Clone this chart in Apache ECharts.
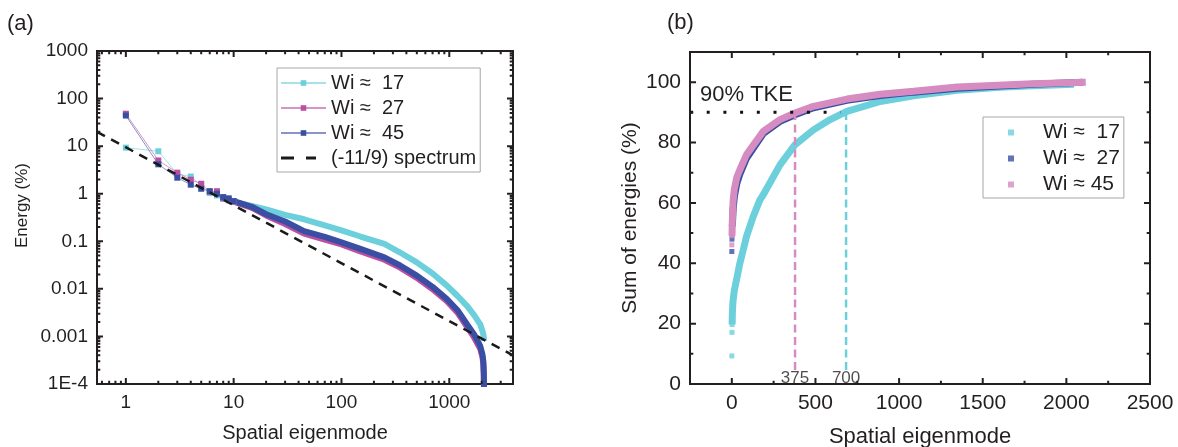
<!DOCTYPE html>
<html>
<head>
<meta charset="utf-8">
<script src="https://cdn.jsdelivr.net/npm/echarts@6/dist/echarts.min.js"></script>
<style>
html, body { margin: 0; padding: 0; background: #fff; }
#chart { width: 1178px; height: 447px; }
</style>
</head>
<body>
<div id="chart"></div>
<script>
// (a) energy of each spatial eigenmode, log-log
var earlyModes = [1, 2, 3, 4, 5, 6, 7, 8, 9, 10];
var earlyWi17 = [9.3, 7.8, 2.6, 2.3, 1.5, 1.03, 0.92, 0.78, 0.72, 0.68];
var earlyWi27 = [48, 5.0, 2.77, 1.97, 1.62, 1.1, 1.13, 0.8, 0.75, 0.68];
var earlyWi45 = [44, 4.15, 2.17, 1.55, 1.27, 1.13, 1.0, 0.85, 0.8, 0.7];

var tailModes = [10, 15, 20, 30, 45, 70, 100, 150, 250, 350, 500, 700, 950, 1200, 1460, 1700, 1935, 2030, 2070, 2090, 2100];
var tailWi17 = [0.68, 0.55, 0.47, 0.36, 0.29, 0.215, 0.17, 0.126, 0.088, 0.058, 0.036, 0.021, 0.0117, 0.007, 0.0044, 0.0028, 0.0018, 0.0013, 0.0011, 0.00095, 0.0008];
var tailWi27 = [0.68, 0.5, 0.35, 0.23, 0.145, 0.108, 0.086, 0.061, 0.041, 0.028, 0.017, 0.0098, 0.0055, 0.0031, 0.0016, 0.00095, 0.00055, 0.00037, 0.00026, 0.00015, 0.00006];
var tailWi45 = [0.7, 0.52, 0.37, 0.26, 0.163, 0.124, 0.095, 0.069, 0.046, 0.031, 0.019, 0.011, 0.0061, 0.0035, 0.0018, 0.0011, 0.00063, 0.00042, 0.0003, 0.00018, 0.00008];

var spectrumModes = [0.54, 3900];
var spectrumE = [20, 0.0004];

// (b) cumulative sum of energies
var sumModes17 = [0, 1, 2, 3, 5, 8, 15, 28, 48, 68, 88, 128, 168, 188, 288, 378, 488, 588, 688, 887, 1087, 1347, 1600, 1800, 2045];
var sumWi17 = [9.3, 17.1, 19.7, 22.9, 25.5, 27.9, 31, 34.5, 40, 44.4, 48.9, 55.5, 61, 62.7, 72.6, 79.3, 84.2, 87.6, 90.3, 93.6, 95.5, 97.3, 98.3, 98.8, 99.3];
var sumModes27 = [0, 1, 2, 3, 5, 8, 15, 30, 48, 88, 188, 288, 378, 488, 688, 887, 1087, 1347, 1800, 2100];
var sumWi27 = [43.9, 48.0, 49.7, 52.2, 54.5, 58, 62, 66.5, 69.5, 74.8, 83, 87, 89.2, 91.5, 94, 95.6, 96.7, 98, 99.3, 100];
var sumModes45 = [0, 1, 2, 3, 5, 8, 15, 30, 48, 88, 188, 288, 378, 488, 688, 887, 1087, 1347, 1800, 2116];
var sumWi45 = [46.1, 49.1, 51, 54, 57, 61, 64.5, 68.5, 71, 76, 83.7, 87.6, 89.8, 92, 94.4, 96, 97, 98.4, 99.5, 100];

var tkeLevel = 90;
var tkeDotRange = [-250, 650];
var tkeModes = [378, 683];
var tkeTops = [88.7, 90.3];
var tkeLabels = ['375', '700'];

// tick positions
var logXMajor = [1, 10, 100, 1000];
var logYMajor = [0.0001, 0.001, 0.01, 0.1, 1, 10, 100, 1000];
var linXMajor = [0, 500, 1000, 1500, 2000, 2500];
var linXMinor = [250, 750, 1250, 1750, 2250];
var linYMajor = [0, 20, 40, 60, 80, 100];
var linYMinor = [10, 30, 50, 70, 90];

function decadeTicks(from, to) {
    var out = [];
    for (var k = from; k <= to; k++) {
        for (var m = 2; m <= 9; m++) out.push(+(m * Math.pow(10, k)).toPrecision(3));
    }
    return out;
}
var logXMinor = [0.6, 0.7, 0.8, 0.9].concat(decadeTicks(0, 2), [2000, 3000]);
var logYMinor = decadeTicks(-4, 2);

var INK = '#231f20';
var FONT = '"Liberation Sans", Arial, sans-serif';
var cyan = '#6ccfdc', magenta = '#bd4fa2', blue = '#3a4fa3', pink = '#d68cc1';

function pairs(xs, ys) {
    return xs.map(function (x, i) { return [x, ys[i]]; });
}

function fmtLog(v) {
    return v < 0.00099 ? '1E-4' : String(+Number(v).toPrecision(4));
}
function fmtLin(v) {
    return String(v);
}

function axis(gridIndex, type, min, max, labels, fontSize, fmt, name, nameGap, nameStyle) {
    var ax = {
        gridIndex: gridIndex, type: type, min: min, max: max,
        axisLine: {show: true, onZero: false, lineStyle: {color: INK, width: 2}},
        axisTick: {show: false},
        axisLabel: {
            show: true, customValues: labels, color: INK, fontSize: fontSize,
            fontFamily: FONT, margin: 9, formatter: fmt
        },
        splitLine: {show: false},
        name: name, nameLocation: 'middle', nameGap: nameGap,
        nameTextStyle: nameStyle
    };
    if (type === 'log') ax.logBase = 10;
    return ax;
}

// inward tick marks on both sides of a frame, as short broken segments in data space.
// perStep = data units (decades on a log axis) per pixel of the crossing axis
function tickMarks(gi, dim, majors, minors, lo, hi, isLog, perStep, len) {
    var out = [];
    function add(v, px) {
        var d = px * perStep;
        [[lo, 1], [hi, -1]].forEach(function (e) {
            var a = e[0];
            var b = isLog ? a * Math.pow(10, e[1] * d) : a + e[1] * d;
            if (dim === 'x') out.push([v, a], [v, b], [v, '-']);
            else out.push([a, v], [b, v], ['-', v]);
        });
    }
    majors.forEach(function (v) { add(v, len); });
    minors.forEach(function (v) { add(v, len * 0.55); });
    return {
        type: 'line', xAxisIndex: gi, yAxisIndex: gi, data: out, symbol: 'none',
        silent: true, clip: false, z: 5, connectNulls: false,
        lineStyle: {color: INK, width: 2}
    };
}

var myChart = echarts.init(document.getElementById('chart'));

function earlyLine(name, ys, color) {
    return {
        name: name, type: 'line', xAxisIndex: 0, yAxisIndex: 0,
        data: pairs(earlyModes, ys), symbol: 'rect', symbolSize: 6,
        itemStyle: {color: color}, lineStyle: {color: color, width: 1, opacity: 0.6}
    };
}
function bandLine(name, data, color, width, gi) {
    return {
        name: name, type: 'line', xAxisIndex: gi, yAxisIndex: gi,
        data: data, symbol: 'none', itemStyle: {color: color},
        lineStyle: {color: color, width: width}
    };
}
function loneDots(name, data, color) {
    return {
        name: name, type: 'scatter', xAxisIndex: 1, yAxisIndex: 1,
        data: data, symbol: 'rect', symbolSize: 5, itemStyle: {color: color}
    };
}
function dashLine(data, color, dash, width) {
    return {
        type: 'line', xAxisIndex: 1, yAxisIndex: 1, data: data, symbol: 'none', z: 4,
        lineStyle: {color: color, width: width, type: dash}
    };
}

var sum17 = pairs(sumModes17, sumWi17);
var sum27 = pairs(sumModes27, sumWi27);
var sum45 = pairs(sumModes45, sumWi45);
var sumNames = {cum17: 'Wi \u2248  17', cum27: 'Wi \u2248  27', cum45: 'Wi \u2248 45'};

var option = {
    animation: false,
    grid: [
        {left: 97, top: 51, width: 416, height: 333, show: true, borderColor: INK, borderWidth: 2, outerBoundsMode: 'none'},
        {left: 690, top: 52, width: 460, height: 332, show: true, borderColor: INK, borderWidth: 2, outerBoundsMode: 'none'}
    ],
    xAxis: [
        axis(0, 'log', 0.54, 3900, logXMajor, 19, fmtLog, 'Spatial eigenmode', 39,
            {color: INK, fontSize: 20, fontFamily: FONT}),
        axis(1, 'value', -250, 2500, linXMajor, 21, fmtLin, 'Spatial eigenmode', 42,
            {color: INK, fontSize: 22, fontFamily: FONT})
    ],
    yAxis: [
        axis(0, 'log', 0.0001, 1000, logYMajor, 19, fmtLog, 'Energy (%)', 66,
            {color: INK, fontSize: 17, fontFamily: FONT, padding: [0, 0, 0, 24]}),
        axis(1, 'value', 0, 110, linYMajor, 21, fmtLin, 'Sum of energies (%)', 49,
            {color: INK, fontSize: 21, fontFamily: FONT})
    ],
    legend: [
        {
            orient: 'vertical', left: 277, top: 68, selectedMode: false,
            data: ['Wi \u2248  17', 'Wi \u2248  27', 'Wi \u2248  45',
                {name: '(-11/9) spectrum', icon: 'path://M0,0H13V3H0Z M25,0H35V3H25Z M44.8,1.4H45V1.6H44.8Z'}],
            itemWidth: 45, itemHeight: 7, itemGap: 5,
            textStyle: {color: INK, fontSize: 20, lineHeight: 20, fontFamily: FONT},
            borderColor: '#a6a6a6', borderWidth: 1, borderRadius: 0, padding: [5, 4, 4, 3]
        },
        {
            orient: 'vertical', left: 983, top: 117, selectedMode: false,
            data: ['cum17', 'cum27', 'cum45'], icon: 'rect',
            formatter: function (n) { return sumNames[n]; },
            itemWidth: 6, itemHeight: 6, itemGap: 5,
            textStyle: {color: INK, fontSize: 21, lineHeight: 20, fontFamily: FONT, padding: [0, 0, 0, 24]},
            borderColor: '#a6a6a6', borderWidth: 1, borderRadius: 0, padding: [5, 4, 3, 25]
        }
    ],
    graphic: [
        {type: 'text', left: 7, top: 13, style: {text: '(a)', fill: INK, fontSize: 22, fontFamily: FONT}},
        {type: 'text', left: 667, top: 12, style: {text: '(b)', fill: INK, fontSize: 22, fontFamily: FONT}},
        {type: 'text', left: 700, top: 84, z: 10, style: {text: '90% TKE', fill: INK, fontSize: 22, fontFamily: FONT}}
    ],
    series: [
        earlyLine('Wi \u2248  17', earlyWi17, cyan),
        earlyLine('Wi \u2248  27', earlyWi27, magenta),
        earlyLine('Wi \u2248  45', earlyWi45, blue),
        bandLine('Wi \u2248  17', pairs(tailModes, tailWi17), cyan, 6, 0),
        bandLine('Wi \u2248  27', pairs(tailModes, tailWi27), magenta, 6, 0),
        bandLine('Wi \u2248  45', pairs(tailModes, tailWi45), blue, 6, 0),
        {
            name: '(-11/9) spectrum', type: 'line', xAxisIndex: 0, yAxisIndex: 0, z: 4,
            data: pairs(spectrumModes, spectrumE), symbol: 'none',
            itemStyle: {color: '#1a1a1a'},
            lineStyle: {color: '#1a1a1a', width: 2.5, type: [9, 7]}
        },
        tickMarks(0, 'x', logXMajor, logXMinor, 0.0001, 1000, true, 1 / 47.57, 6),
        tickMarks(0, 'y', logYMajor, logYMinor, 0.54, 3900, true, 1 / 107.7, 6),

        loneDots('cum17', sum17.slice(0, 3), cyan),
        loneDots('cum27', sum27.slice(0, 4), blue),
        loneDots('cum45', sum45.slice(0, 2), pink),
        bandLine('cum17', sum17.slice(2), cyan, 7, 1),
        bandLine('cum27', sum27.slice(3), blue, 7, 1),
        bandLine('cum45', sum45.slice(1), pink, 7, 1),
        dashLine([[tkeDotRange[0], tkeLevel], [tkeDotRange[1], tkeLevel]], '#111', [3, 13.7], 3),
        dashLine([[tkeModes[0], 4.6], [tkeModes[0], tkeTops[0]]], pink, [8, 4.5], 2.5),
        dashLine([[tkeModes[1], 4.6], [tkeModes[1], tkeTops[1]]], cyan, [8, 4.5], 2.5),
        {
            type: 'scatter', xAxisIndex: 1, yAxisIndex: 1, symbolSize: 0, z: 5,
            data: tkeModes.map(function (m, i) { return {value: [m, 0], name: tkeLabels[i]}; }),
            label: {
                show: true, position: 'top', distance: -3, formatter: '{b}',
                color: INK, fontSize: 17, fontFamily: FONT
            }
        },
        tickMarks(1, 'x', linXMajor, linXMinor, 0, 110, false, 110 / 332, 6),
        tickMarks(1, 'y', linYMajor, linYMinor, -250, 2500, false, 2750 / 460, 6)
    ]
};
myChart.setOption(option);
</script>
</body>
</html>
